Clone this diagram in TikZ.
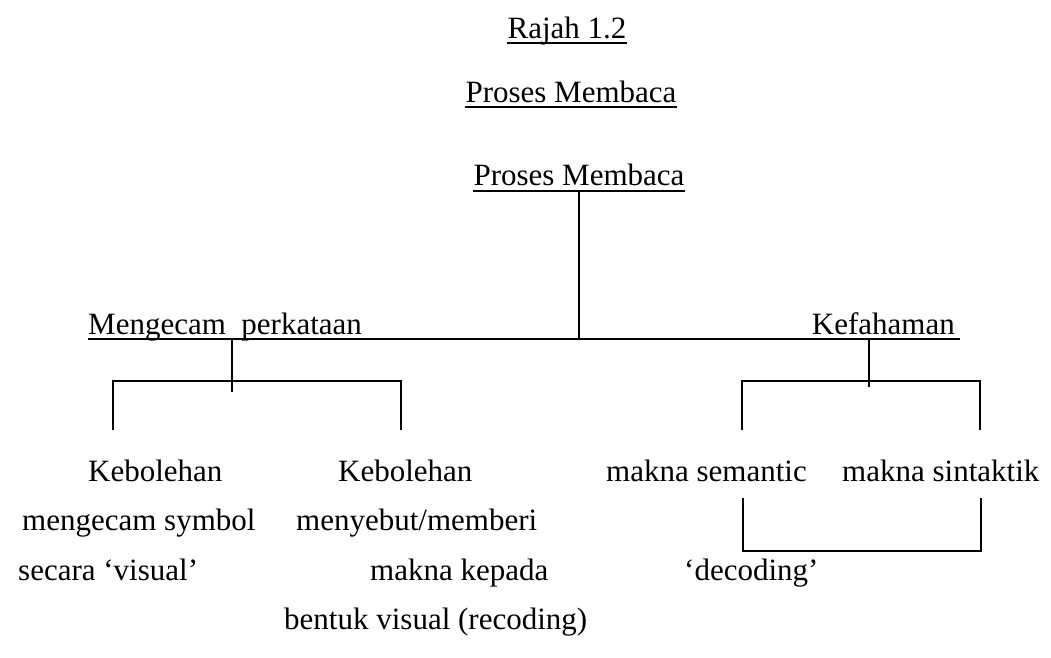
\documentclass[tikz,border=0pt]{standalone}
\usepackage{fontspec}
\setmainfont{Liberation Serif}
\usetikzlibrary{positioning}

\begin{document}
\begin{tikzpicture}[
  x=1pt,y=-1pt,
  txt/.style={font=\fontsize{31}{37}\selectfont,inner sep=0pt,anchor=base west},
  ttl/.style={txt,anchor=base},
  ln/.style={line width=1.3pt}
]
\useasboundingbox (0,0) rectangle (1051,657);

% titles
\node[ttl] (rajah) at (567,38) {Rajah 1.2};
\node[ttl] (judul) at (571,102) {Proses Membaca};
\node[ttl] (root) at (579,185) {Proses Membaca};
\draw[ln] ([yshift=-5pt]rajah.base west) -- ([yshift=-5pt]rajah.base east);
\draw[ln] ([yshift=-5pt]judul.base west) -- ([yshift=-5pt]judul.base east);
\draw[ln] ([yshift=-6pt]root.base west) -- ([yshift=-6pt]root.base east);

% level 1
\node[txt] (mengecam) at (88,334) {Mengecam~ perkataan};
\node[txt,anchor=base east] (faham) at (955,334) {Kefahaman};

\coordinate (top) at ([yshift=-6pt]root.base -| 579,0);
\coordinate (jroot) at (579,339);
\coordinate (barL) at (88,339);
\coordinate (barR) at (960,339);
\draw[ln] (top) -- (jroot);
\draw[ln] (barL) -- (barR);

% left bracket
\coordinate (jl) at (232,339);
\coordinate (jlb) at (232,392);
\coordinate (l1) at (113,381);
\coordinate (l2) at (401,381);
\draw[ln] (jl) -- (jlb);
\draw[ln] (l1 |- 0,430) -- (l1) -- (l2) -- (l2 |- 0,430);

% right bracket
\coordinate (jr) at (869,339);
\coordinate (jrb) at (869,387);
\coordinate (r1) at (742,381);
\coordinate (r2) at (980,381);
\draw[ln] (jr) -- (jrb);
\draw[ln] (r1 |- 0,430) -- (r1) -- (r2) -- (r2 |- 0,430);

% level 2
\node[txt] (boleh1) at (88,481) {Kebolehan};
\node[txt] (boleh2) at (338,481) {Kebolehan};
\node[txt] (semantic) at (606,481) {makna semantic};
\node[txt] (sintaktik) at (842,481) {makna sintaktik};

\node[txt] (symbol) at (22,530) {mengecam symbol};
\node[txt] (sebut) at (296,530) {menyebut/memberi};

\node[txt] (visual) at (18,580) {secara `visual'};
\node[txt] (kepada) at (370,580) {makna kepada};
\node[txt] (decoding) at (684,580) {`decoding'};

\node[txt] (bentuk) at (284,629) {bentuk visual (recoding)};

% decoding bracket
\coordinate (d1) at (743,498);
\coordinate (d2) at (981,498);
\draw[ln] (d1) -- (d1 |- 0,551) -- (d2 |- 0,551) -- (d2);

\end{tikzpicture}
\end{document}
